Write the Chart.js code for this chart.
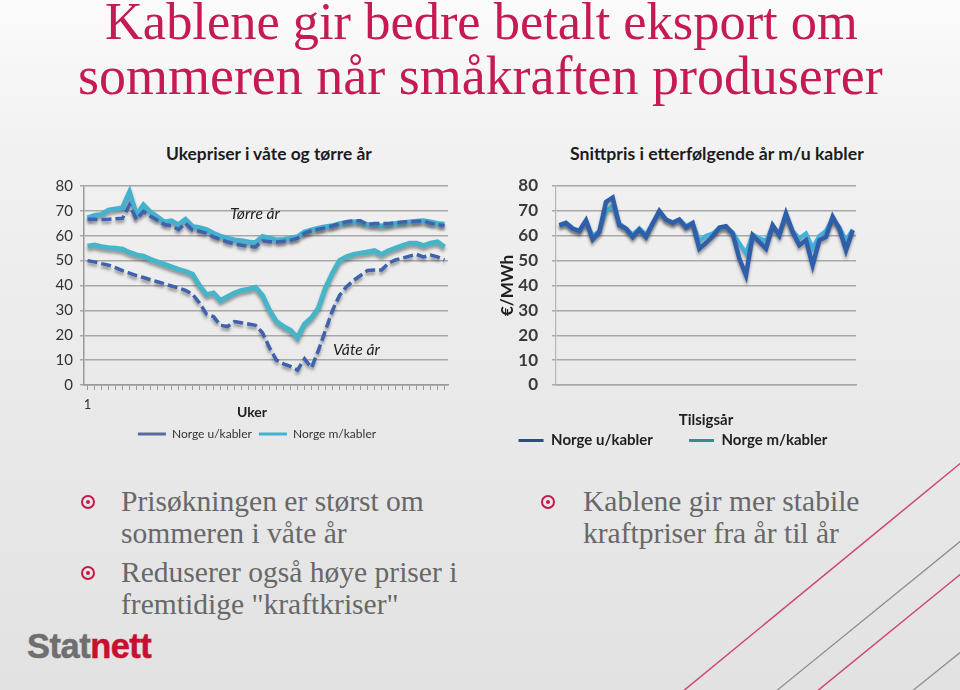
<!DOCTYPE html>
<html><head><meta charset="utf-8">
<script src="https://cdn.jsdelivr.net/npm/chart.js@4.4.1/dist/chart.umd.min.js"></script>
<style>
html,body{margin:0;padding:0;}
body{width:960px;height:690px;overflow:hidden;position:relative;
  background:linear-gradient(to bottom,#fbfbfb 0%,#f1f1f1 22%,#eaeaea 55%,#e2e2e2 100%);
  font-family:Lato,"Open Sans",sans-serif;}
.t{position:absolute;white-space:nowrap;line-height:1;}
.bm{display:inline-block;width:0;height:0;vertical-align:baseline;}
.serif{font-family:"Liberation Serif","DejaVu Serif",serif;}
.title{color:#c51a52;}
.sub{font-weight:700;color:#1c1c1c;}
.bul{color:#686868;}
.ann{font-style:italic;color:#222;}
.dot{position:absolute;width:10px;height:10px;border:2px solid #c8174a;border-radius:50%;}
.dot:after{content:"";position:absolute;left:3px;top:3px;width:4px;height:4px;border-radius:50%;background:#c8174a;}
canvas{position:absolute;}
</style>
</head><body>
<svg width="960" height="690" style="position:absolute;left:0;top:0">
  <line x1="962" y1="462" x2="682" y2="692" stroke="#d0466e" stroke-width="1.5"/>
  <line x1="962" y1="540" x2="775" y2="692" stroke="#8c8c8c" stroke-width="1.2"/>
  <line x1="962" y1="573" x2="816" y2="692" stroke="#d0466e" stroke-width="1.5"/>
  <line x1="962" y1="651" x2="911" y2="692" stroke="#8c8c8c" stroke-width="1.2"/>
</svg>

<div class="t serif title" id="t1">Kablene gir bedre betalt eksport om<span class="bm"></span></div>
<div class="t serif title" id="t2">sommeren når småkraften produserer<span class="bm"></span></div>
<div class="t sub" id="s1">Ukepriser i våte og tørre år<span class="bm"></span></div>
<div class="t sub" id="s2">Snittpris i etterfølgende år m/u kabler<span class="bm"></span></div>

<canvas id="c1" width="425" height="280" style="left:40px;top:170px;width:425px;height:280px"></canvas>
<canvas id="c2" width="385" height="288" style="left:490px;top:170px;width:385px;height:288px"></canvas>

<div class="t ann" id="a1">Tørre år<span class="bm"></span></div>
<div class="t ann" id="a2">Våte år<span class="bm"></span></div>

<div class="dot" style="left:81px;top:495px"></div>
<div class="dot" style="left:81px;top:566px"></div>
<div class="dot" style="left:541px;top:495px"></div>
<div class="t serif bul" id="b1">Prisøkningen er størst om<span class="bm"></span></div>
<div class="t serif bul" id="b2">sommeren i våte år<span class="bm"></span></div>
<div class="t serif bul" id="b3">Reduserer også høye priser i<span class="bm"></span></div>
<div class="t serif bul" id="b4">fremtidige "kraftkriser"<span class="bm"></span></div>
<div class="t serif bul" id="b5">Kablene gir mer stabile<span class="bm"></span></div>
<div class="t serif bul" id="b6">kraftpriser fra år til år<span class="bm"></span></div>

<div class="t" id="logo" style="font-family:'Liberation Sans',Arial,sans-serif;font-weight:700;letter-spacing:-0.5px;-webkit-text-stroke:0.5px currentColor"><span style="color:#6f6f6f">Stat</span><span style="color:#c8102e">nett</span><span class="bm"></span></div>

<script>
// ---------- data ----------
const weeks = ['1','2','3','4','5','6','7','8','9','10','11','12','13','14','15','16','17','18','19','20','21','22','23','24','25','26','27','28','29','30','31','32','33','34','35','36','37','38','39','40','41','42','43','44','45','46','47','48','49','50','51','52'];
const dryWithout = [66.6,66.6,66.5,66.6,66.8,67.0,72.4,66.6,69.7,67.8, 66.2,64.5,64.0,62.5,65.0,62.3,61.8,61.0,59.5,58.5, 57.5,56.8,56.2,55.8,55.5,58.0,57.6,57.5,57.8,58.2, 59.0,61.0,62.0,62.6,63.2,64.0,64.8,65.6,66.0,66.0, 64.5,64.9,64.9,64.9,65.2,65.5,65.7,65.8,66.0,65.0, 64.5,64.0];
const dryWith    = [67.2,68.2,68.6,70.3,70.8,71.2,77.5,68.4,72.4,69.5, 67.5,65.5,66.0,64.4,66.6,63.7,63.2,62.5,61.0,59.8, 59.0,58.3,58.0,57.5,57.2,59.7,59.0,58.3,58.5,59.0, 59.6,61.5,62.3,63.0,63.6,64.0,64.8,65.3,65.6,65.3, 64.5,64.2,63.9,64.3,64.9,65.2,65.5,65.8,66.0,65.5, 64.9,64.6];
const wetWithout = [50.0,49.5,48.8,48.2,47.2,46.0,45.0,44.0,43.2,42.3, 41.5,40.7,39.8,39.0,38.0,36.5,33.0,28.5,27.5,24.0, 23.5,25.5,25.0,24.5,24.0,21.0,15.0,10.0,8.5,7.5, 6.0,10.5,7.0,14.0,22.0,30.0,36.0,39.5,42.0,44.0, 46.0,46.2,46.2,49.0,50.3,51.0,51.8,52.5,51.5,52.2, 51.5,50.3];
const wetWith    = [55.8,56.3,55.6,55.2,55.0,54.6,53.3,52.3,51.8,50.5, 49.5,48.5,47.5,46.5,45.7,44.5,40.0,36.3,37.0,34.0, 35.5,37.0,38.0,38.5,39.3,36.0,30.0,25.5,23.5,22.0, 19.0,24.5,27.0,31.0,39.0,45.0,50.0,51.5,52.5,53.0, 53.5,54.0,52.5,54.0,55.0,56.0,57.0,57.0,56.0,57.0, 57.5,55.5];

const years = ['1','2','3','4','5','6','7','8','9','10','11','12','13','14','15','16','17','18','19','20','21','22','23','24','25','26','27','28','29','30','31','32','33','34','35','36','37','38','39','40','41','42','43','44','45'];
const avgWithout = [64.2,65.1,62.9,61.9,66.2,58.5,61.5,73.6,75.3,64.2, 62.9,59.5,62.5,59.5,64.9,70.0,66.5,65.1,66.5,63.3, 65.1,54.8,57.1,59.8,63.3,63.8,60.9,50.8,44.1,60.2, 57.5,54.8,64.2,60.2,68.9,61.5,56.2,58.2,48.2,58.2, 59.5,67.6,62.9,54.2,62.2];
const avgWith    = [64.5,65.3,63.0,62.0,66.0,60.0,61.8,70.0,72.0,65.0, 63.0,60.5,63.0,60.5,65.0,69.5,66.5,65.5,66.5,64.0, 65.2,58.0,60.0,61.0,63.0,63.5,61.5,57.0,53.0,60.5, 59.0,58.0,64.0,61.0,68.5,62.0,59.0,61.0,55.0,60.0, 62.0,67.0,63.5,58.0,62.5];

const yMin = 0, yMax = 80, yStep = 10;
const seriesNames = ['Norge u/kabler','Norge m/kabler'];

// ---------- text placement ----------
function measure(el){ return el.getBoundingClientRect().width; }
function fitSize(el, width){ el.style.fontSize='100px'; const w = measure(el); const fs = 100*width/w; el.style.fontSize = fs+'px'; return fs; }
function place(el, left, baseline){
  el.style.left = left+'px'; el.style.top='0px';
  const bm = el.querySelector('.bm');
  const b = bm.getBoundingClientRect().top - el.getBoundingClientRect().top;
  el.style.top = (baseline - b)+'px';
}
function fitCenter(id, cx, width, baseline){ const el=document.getElementById(id); fitSize(el,width); place(el, cx-width/2, baseline); }
function fitLeft(id, left, width, baseline){ const el=document.getElementById(id); fitSize(el,width); place(el, left, baseline); }

fitCenter('t1', 481.5, 753, 39);
fitCenter('t2', 480.5, 805, 94);
fitCenter('s1', 269, 206, 160);
fitCenter('s2', 717, 294, 160);
fitLeft('a1', 230, 50, 219);
fitLeft('a2', 333, 47, 355);
const bfs = fitSize(document.getElementById('b1'), 303);
['b2','b3','b4','b5','b6'].forEach(id=>document.getElementById(id).style.fontSize=bfs+'px');
place(document.getElementById('b1'),121,511);
place(document.getElementById('b2'),121,543);
place(document.getElementById('b3'),121,582);
place(document.getElementById('b4'),121,614);
place(document.getElementById('b5'),583,511);
place(document.getElementById('b6'),583,543);
fitLeft('logo', 27, 127, 658);

// ---------- charts ----------
Chart.defaults.font.family = 'Lato, "Open Sans", sans-serif';
Chart.defaults.animation = false;

const glow = {
  id:'glow',
  beforeDatasetDraw(chart){ const c=chart.ctx; c.save(); c.shadowColor='rgba(70,70,70,0.5)'; c.shadowBlur=3; c.shadowOffsetX=0; c.shadowOffsetY=3; },
  afterDatasetDraw(chart){ chart.ctx.restore(); }
};
// shifts the legend box horizontally after layout
const legendShift = {
  id:'legendShift',
  afterLayout(chart, args, opts){ const l = chart.legend; if(l && opts.dx){ l.left += opts.dx; l.right += opts.dx; } }
};

const defGen = Chart.defaults.plugins.legend.labels.generateLabels;

new Chart(document.getElementById('c1'), {
  type:'line',
  data:{ labels:weeks, datasets:[
    {label:seriesNames[0], data:dryWithout, borderColor:'#3e62ad', borderWidth:3.5, borderDash:[10,4], pointRadius:0, tension:0},
    {label:seriesNames[1], data:dryWith, borderColor:'#45b1cf', borderWidth:5, pointRadius:0, tension:0},
    {label:seriesNames[0]+' (våte år)', data:wetWithout, borderColor:'#3e62ad', borderWidth:3.5, borderDash:[10,4], pointRadius:0, tension:0},
    {label:seriesNames[1]+' (våte år)', data:wetWith, borderColor:'#47b5c8', borderWidth:5, pointRadius:0, tension:0}
  ]},
  options:{
    responsive:false, maintainAspectRatio:false, animation:false,
    layout:{padding:{left:0,right:17,top:16,bottom:0}},
    scales:{
      x:{offset:true,
         grid:{drawOnChartArea:false, drawTicks:true, tickLength:5, color:'#9a9a9a'},
         border:{display:true,color:'#9a9a9a',width:1.5},
         ticks:{autoSkip:false,maxRotation:0,minRotation:0,padding:7,color:'#333',font:{size:13},callback:(v,i)=> i===0?weeks[0]:''},
         title:{display:true,text:'Uker\u2003\u2003\u2002',color:'#1e1e1e',font:{size:14,weight:'bold'},padding:{top:0,bottom:0}},
         afterFit:s=>{s.height=36;}},
      y:{min:yMin,max:yMax,
         ticks:{stepSize:yStep,padding:7,color:'#333',font:{size:15}},
         grid:{color:'#a8a8a8',lineWidth:1.5,tickLength:4,drawTicks:true},
         border:{display:true,color:'#9a9a9a',width:1.5},
         afterFit:s=>{s.width=44;}}
    },
    plugins:{
      legendShift:{dx:13},
      legend:{position:'bottom',labels:{usePointStyle:true,pointStyle:'line',pointStyleWidth:28,padding:7,color:'#333',font:{size:12},
        filter:(it)=>it.datasetIndex<2,
        generateLabels:(ch)=>defGen(ch).map(it=>{it.lineWidth=3; if(it.datasetIndex===0){it.strokeStyle='#5b6c9c';} return it;})}},
      tooltip:{enabled:false}
    }
  },
  plugins:[glow, legendShift]
});

new Chart(document.getElementById('c2'), {
  type:'line',
  data:{ labels:years, datasets:[
    {label:seriesNames[0], data:avgWithout, borderColor:'#2f5fab', borderWidth:4.5, pointRadius:0, tension:0},
    {label:seriesNames[1], data:avgWith, borderColor:'#40b2de', borderWidth:4, pointRadius:0, tension:0}
  ]},
  options:{
    responsive:false, maintainAspectRatio:false, animation:false,
    layout:{padding:{left:0,right:19,top:16,bottom:0}},
    scales:{
      x:{offset:true,
         grid:{drawOnChartArea:false,drawTicks:false},
         border:{display:true,color:'#a8a8a8',width:1.5},
         ticks:{display:false},
         title:{display:true,text:'Tilsigsår',color:'#1e1e1e',font:{size:15,weight:'bold'},padding:{top:0,bottom:-6}},
         afterFit:s=>{s.height=38;}},
      y:{min:yMin,max:yMax,
         ticks:{stepSize:yStep,padding:14,color:'#3a3a3a',font:{size:17,weight:'bold',lineHeight:0.1}},
         grid:{color:'#a8a8a8',lineWidth:1.5,tickLength:4,drawTicks:true},
         border:{display:true,color:'#b5b5b5',width:1.2},
         title:{display:true,text:'€/MWh',color:'#1e1e1e',font:{size:17,weight:'bold'},padding:{top:7,bottom:7}},
         afterFit:s=>{s.width=66;}}
    },
    plugins:{
      legend:{position:'bottom',labels:{usePointStyle:true,pointStyle:'line',pointStyleWidth:25,padding:10,color:'#222',font:{size:15,weight:'bold'},
        generateLabels:(ch)=>defGen(ch).map(it=>{it.lineWidth=3; it.strokeStyle = it.datasetIndex===0?'#2b4c87':'#3b8a8e'; if(it.datasetIndex===0){it.text=it.text+'\u2003\u2003 ';} return it;})}},
      tooltip:{enabled:false}
    }
  },
  plugins:[glow]
});
</script>
</body></html>
